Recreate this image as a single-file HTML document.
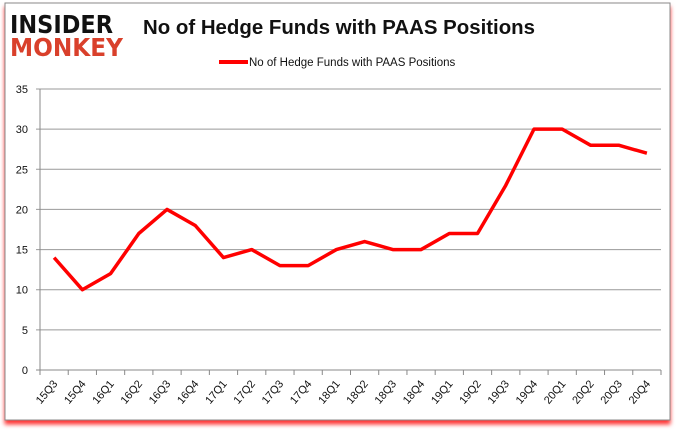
<!DOCTYPE html>
<html><head><meta charset="utf-8"><style>
body{margin:0;width:678px;height:431px;background:#fff;overflow:hidden;font-family:"Liberation Sans",sans-serif}
</style></head><body>
<svg width="678" height="431">
<defs><filter id="sh" x="-5%" y="-5%" width="110%" height="115%"><feDropShadow dx="0" dy="4" stdDeviation="2" flood-color="#f00" flood-opacity="0.8"/></filter></defs>
<rect x="5" y="3" width="665" height="417" fill="#fff" stroke="#888" filter="url(#sh)"/>
<g>
<text x="10" y="33" font-family="DejaVu Sans" font-weight="900" font-size="25" fill="#111" textLength="103" lengthAdjust="spacingAndGlyphs">INSIDER</text>
<text x="10" y="56" font-family="DejaVu Sans" font-weight="900" font-size="25" fill="#d9402b" textLength="113" lengthAdjust="spacingAndGlyphs">MONKEY</text>
</g>
<text x="143" y="34" font-size="20" font-weight="bold" fill="#111" textLength="392" lengthAdjust="spacingAndGlyphs">No of Hedge Funds with PAAS Positions</text>
<line x1="219" y1="62" x2="248" y2="62" stroke="#f00" stroke-width="4"/>
<text x="249" y="66" font-size="11.5" fill="#111">No of Hedge Funds with PAAS Positions</text>
<g id="g"></g>
</svg>
<script>
const categories=["15Q3","15Q4","16Q1","16Q2","16Q3","16Q4","17Q1","17Q2","17Q3","17Q4","18Q1","18Q2","18Q3","18Q4","19Q1","19Q2","19Q3","19Q4","20Q1","20Q2","20Q3","20Q4"];
const values=[14,10,12,17,20,18,14,15,13,13,15,16,15,15,17,17,23,30,30,28,28,27];
const yTicks=[0,5,10,15,20,25,30,35];
const L=40,R=661,T=89,B=370,ymax=35;
const y=v=>B-(v/ymax)*(B-T);
const bw=(R-L)/categories.length;
const x=i=>L+bw*(i+0.5);
const g=document.getElementById('g');const NS="http://www.w3.org/2000/svg";
function mk(t,a){const e=document.createElementNS(NS,t);for(const k in a)e.setAttribute(k,a[k]);g.appendChild(e);return e;}
yTicks.forEach(v=>{
const l=mk('line',{x1:L-4,x2:R,y1:y(v),y2:y(v),stroke:v===0?'#888':'#999'});


const t=mk('text',{x:28,y:y(v)+4,'text-anchor':'end','font-size':11,fill:'#111'});t.textContent=v;


});
const ax=mk('line',{x1:L,x2:L,y1:T,y2:B,stroke:'#888'});


categories.forEach((c,i)=>{
const tk=mk('line',{x1:L+bw*i,x2:L+bw*i,y1:B,y2:B+5,stroke:'#888'});


const t=mk('text',{x:x(i)+4,y:B+14,'text-anchor':'end','font-size':11,fill:'#111',transform:`rotate(-50 ${x(i)+4} ${B+14})`});t.textContent=c;


});
const tk=mk('line',{x1:R,x2:R,y1:B,y2:B+5,stroke:'#888'});


const p=mk('polyline',{points:values.map((v,i)=>x(i)+','+y(v)).join(' '),fill:'none',stroke:'#f00','stroke-width':3.5,'stroke-linejoin':'round'});


</script>
</body></html>
